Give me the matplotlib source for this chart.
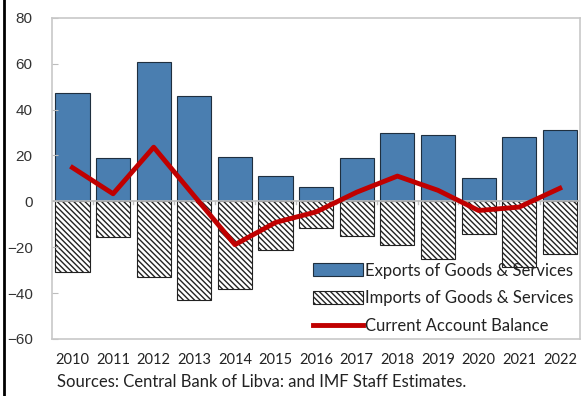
import matplotlib.pyplot as plt
import matplotlib.lines as mlines
import numpy as np

# Dane
years = ['2010', '2011', '2012', '2013', '2014', '2015', '2016',
         '2017', '2018', '2019', '2020', '2021', '2022']
exports = [47.3, 18.9, 60.8, 45.9, 19.3, 10.9, 6.4, 19.0, 29.8, 29.0, 10.2, 28.0, 31.0]
imports = [-30.9, -15.6, -32.9, -42.9, -38.1, -21.0, -11.8, -15.3, -19.2, -25.3, -14.4, -28.7, -23.0]
balance = [14.7, 3.3, 23.6, 2.3, -18.9, -9.2, -4.6, 4.0, 11.0, 4.8, -4.0, -2.5, 5.7]

plt.rcParams['hatch.linewidth'] = 1.0

fig = plt.figure(figsize=(5.86, 3.96), dpi=100)
ax = fig.add_axes([0.089, 0.144, 0.901, 0.811])

x = np.arange(len(years))
b1 = ax.bar(x, exports, width=0.84, color='#4A7EB0', edgecolor='#1f2f3f', linewidth=0.8,
            label='Exports of Goods & Services')
b2 = ax.bar(x, imports, width=0.84, color='white', edgecolor='#222222', linewidth=0.8,
            hatch='\\\\\\\\\\\\', label='Imports of Goods & Services')
l1, = ax.plot(x, balance, color='#C00000', linewidth=3.5, label='Current Account Balance')

ax.axhline(0, color='#bdbdbd', linewidth=1.2, zorder=1.5)
for xi in x[:-1] + 0.5:
    ax.plot([xi, xi], [0, -1.2], color='#bdbdbd', linewidth=1, zorder=1.5)

ax.set_xlim(-0.5, len(years) - 0.5)
ax.set_ylim(-60, 80)
ax.set_yticks(range(-60, 81, 20))
ax.set_xticks(x)
ax.set_xticklabels(years, fontsize=10.5, family='Lato', color='#222222')
ax.tick_params(axis='x', length=0, pad=10)
ax.tick_params(axis='y', direction='in', length=4, color='#bdbdbd', pad=14,
               labelsize=11, labelcolor='#333333')
for lab in ax.get_yticklabels():
    lab.set_family('Liberation Sans')
for s in ax.spines.values():
    s.set_color('#c8c8c8')
    s.set_linewidth(1.2)

leg = ax.legend([b1, b2, l1], [b1.get_label(), b2.get_label(), l1.get_label()],
                loc='lower right', frameon=False, prop={'family': 'Lato', 'size': 12},
                handlelength=3.0, handleheight=0.8, handletextpad=0.15, labelspacing=0.7,
                borderaxespad=0.0, bbox_to_anchor=(1.0, -0.005))
for t in leg.get_texts():
    t.set_color('#222222')

fig.text(0.097, 0.022, 'Sources: Central Bank of Libva: and IMF Staff Estimates.',
         fontsize=12, family='Lato', color='#222222')

# czarna linia przy lewej krawedzi
fig.add_artist(mlines.Line2D([0.006, 0.006], [0, 1], color='black', linewidth=2,
                             transform=fig.transFigure))

fig.savefig('out.png', dpi=100)
